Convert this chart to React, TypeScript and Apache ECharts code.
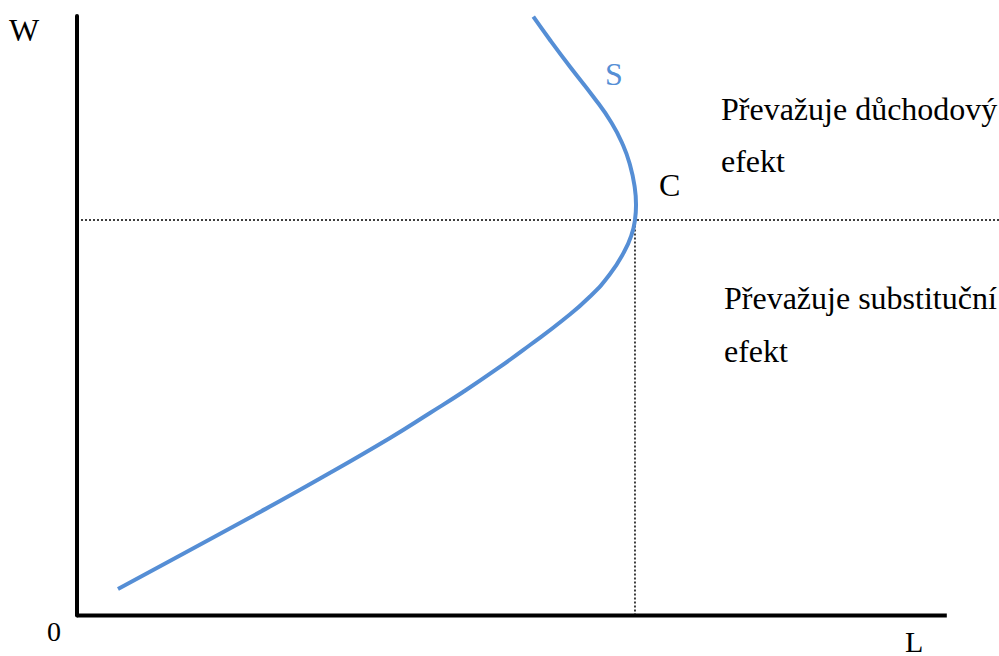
import React, { useEffect, useRef } from "react";
import * as echarts from "echarts";

// Labour supply curve S (L on x, W on y), abstract units: L 0..100 (axis end), W 0..100
const supplyL = [4.71, 11.84, 19.89, 27.94, 35.99, 40.58, 44.38, 48.28, 52.08, 55.87, 58.98, 61.28, 62.89, 63.75, 64.15, 64.27, 64.1, 63.58, 62.77, 61.45, 59.36, 56.68, 54.38, 52.46];
const supplyW = [4.42, 10.01, 16.35, 22.85, 29.61, 33.78, 37.28, 41.12, 45.12, 49.29, 53.21, 56.96, 60.63, 63.47, 65.97, 68.47, 71.64, 75.15, 78.48, 82.2, 86.54, 91.54, 96.0, 99.88];
// Turning point C
const pointC = [64.15, 65.97];
const xAxisEnd = 100;
const xViewMax = 106;
const yMax = 100;

const FONT = "'Liberation Serif', 'Times New Roman', serif";

export default function App() {
  const ref = useRef<HTMLDivElement>(null);
  useEffect(() => {
    if (!ref.current) return;
    const chart = echarts.init(ref.current, null, { renderer: "svg" });
    const curve = supplyL.map((l, i) => [l, supplyW[i]]);
    const txt = (text: string, left: number, top: number, size: number, fill = "#000") => ({
      type: "text",
      left,
      top,
      style: { text, fontFamily: FONT, fontSize: size, fill },
    });
    chart.setOption({
      animation: false,
      textStyle: { fontFamily: FONT },
      grid: { left: 77, right: 0, top: 16, bottom: 40.5 },
      xAxis: {
        type: "value",
        min: 0,
        max: xViewMax,
        axisLine: { show: false },
        axisTick: { show: false },
        axisLabel: { show: false },
        splitLine: { show: false },
      },
      yAxis: {
        type: "value",
        min: 0,
        max: yMax,
        axisLine: { show: true, lineStyle: { color: "#000", width: 4 } },
        axisTick: { show: false },
        axisLabel: { show: false },
        splitLine: { show: false },
      },
      series: [
        {
          type: "line",
          name: "xaxis",
          data: [[0, 0], [xAxisEnd, 0]],
          symbol: "none",
          clip: false,
          silent: true,
          lineStyle: { color: "#000", width: 4 },
        },
        {
          type: "line",
          name: "hguide",
          data: [[0, pointC[1]], [xViewMax, pointC[1]]],
          symbol: "none",
          clip: false,
          silent: true,
          lineStyle: { color: "#000", width: 1.5, type: [2, 2] },
        },
        {
          type: "line",
          name: "vguide",
          data: [[pointC[0], 0], [pointC[0], pointC[1]]],
          symbol: "none",
          clip: false,
          silent: true,
          lineStyle: { color: "#000", width: 1.5, type: [2, 2] },
        },
        {
          type: "line",
          name: "S",
          data: curve,
          symbol: "none",
          smooth: 0.5,
          clip: false,
          lineStyle: { color: "#558ED5", width: 4 },
        },
      ],
      graphic: [
        txt("W", 9, 14, 32),
        txt("0", 47, 617, 28),
        txt("L", 905, 626, 30),
        txt("S", 605, 58, 32, "#558ED5"),
        txt("C", 659, 169, 32),
        txt("Převažuje důchodový", 721, 93, 32),
        txt("efekt", 721, 145, 32),
        txt("Převažuje substituční", 724, 282, 32),
        txt("efekt", 724, 335, 32),
      ],
    });
    return () => chart.dispose();
  }, []);
  return <div ref={ref} style={{ width: 999, height: 656, position: "absolute", left: 0, top: 0 }} />;
}
